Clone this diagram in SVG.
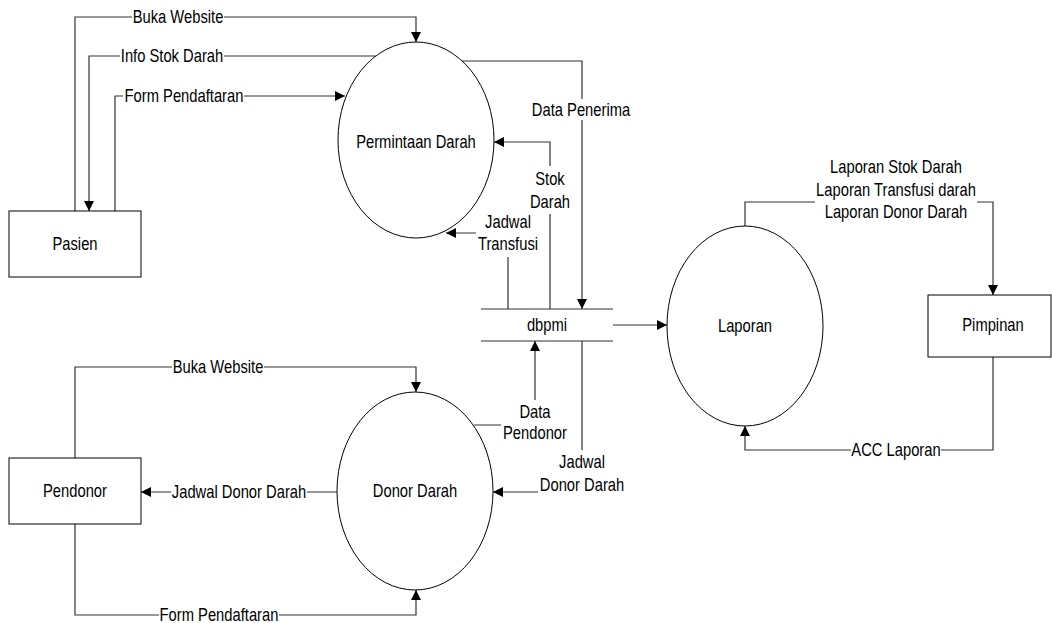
<svg xmlns="http://www.w3.org/2000/svg" width="1052" height="623" viewBox="0 0 1052 623">
<style>
text{font-family:"Liberation Sans",Arial,sans-serif;font-size:18px;fill:#000;text-anchor:middle}
.shape{fill:#fff;stroke:#000;stroke-width:1}
.ln{fill:none;stroke:#333;stroke-width:1.2}
.bg{fill:#fff;stroke:none}
</style>
<defs>
<marker id="arr" markerWidth="10" markerHeight="10" refX="10" refY="5" orient="auto" markerUnits="userSpaceOnUse">
<path d="M0,0 L10,5 L0,10 z" fill="#000"/>
</marker>
</defs>
<rect width="1052" height="623" fill="#fff"/>
<g id="connectors">
<path class="ln" d="M75,211 V17 H416 V42" marker-end="url(#arr)"/>
<path class="ln" d="M376,56 H89 V211" marker-end="url(#arr)"/>
<path class="ln" d="M115,211 V96 H345" marker-end="url(#arr)"/>
<path class="ln" d="M462,61 H582 V309" marker-end="url(#arr)"/>
<path class="ln" d="M550,309 V142 H494" marker-end="url(#arr)"/>
<path class="ln" d="M508,309 V233 H446" marker-end="url(#arr)"/>
<path class="ln" d="M613,325 H667" marker-end="url(#arr)"/>
<path class="ln" d="M745,226 V202 H993 V295" marker-end="url(#arr)"/>
<path class="ln" d="M993,357 V450 H745 V426" marker-end="url(#arr)"/>
<path class="ln" d="M75,458 V367 H416 V392" marker-end="url(#arr)"/>
<path class="ln" d="M337,492 H141" marker-end="url(#arr)"/>
<path class="ln" d="M75,524 V615 H416 V590" marker-end="url(#arr)"/>
<path class="ln" d="M474,425 H535 V341" marker-end="url(#arr)"/>
<path class="ln" d="M582,341 V492 H493" marker-end="url(#arr)"/>
<g id="labels">
<rect class="bg" x="132" y="8" width="92" height="18"/><text transform="translate(178,23) scale(0.82,1)">Buka Website</text>
<rect class="bg" x="120" y="47" width="104" height="18"/><text transform="translate(172,62) scale(0.82,1)">Info Stok Darah</text>
<rect class="bg" x="123" y="87" width="121" height="18"/><text transform="translate(184,102) scale(0.82,1)">Form Pendaftaran</text>
<rect class="bg" x="531" y="99" width="100" height="21"/><text transform="translate(581,116) scale(0.82,1)">Data Penerima</text>
<rect class="bg" x="530" y="166" width="40" height="48"/><text transform="translate(550,185) scale(0.82,1)">Stok</text><text transform="translate(550,208) scale(0.82,1)">Darah</text>
<rect class="bg" x="476" y="209" width="65" height="48"/><text transform="translate(508,228) scale(0.82,1)">Jadwal</text><text transform="translate(508,250) scale(0.82,1)">Transfusi</text>
<rect class="bg" x="815" y="156" width="162" height="68"/><text transform="translate(896,173) scale(0.82,1)">Laporan Stok Darah</text><text transform="translate(896,196) scale(0.82,1)">Laporan Transfusi darah</text><text transform="translate(896,218) scale(0.82,1)">Laporan Donor Darah</text>
<rect class="bg" x="851" y="441" width="90" height="18"/><text transform="translate(896,456) scale(0.82,1)">ACC Laporan</text>
<rect class="bg" x="172" y="358" width="92" height="18"/><text transform="translate(218,373) scale(0.82,1)">Buka Website</text>
<rect class="bg" x="171" y="483" width="136" height="18"/><text transform="translate(239,498) scale(0.82,1)">Jadwal Donor Darah</text>
<rect class="bg" x="159" y="606" width="120" height="17"/><text transform="translate(219,621) scale(0.82,1)">Form Pendaftaran</text>
<rect class="bg" x="501" y="400" width="67" height="44"/><text transform="translate(535,418) scale(0.82,1)">Data</text><text transform="translate(535,439) scale(0.82,1)">Pendonor</text>
<rect class="bg" x="538" y="450" width="88" height="45"/><text transform="translate(582,468) scale(0.82,1)">Jadwal</text><text transform="translate(582,491) scale(0.82,1)">Donor Darah</text>
</g>
</g>
<g id="pasien"><rect class="shape" x="9" y="211" width="132" height="66"/><text transform="translate(75,250) scale(0.82,1)">Pasien</text></g>
<g id="permintaan-darah"><ellipse class="shape" cx="416" cy="140" rx="78" ry="98"/><text transform="translate(416,148) scale(0.82,1)">Permintaan Darah</text></g>
<g id="dbpmi"><path class="ln" d="M481,309 H613 M481,341 H613"/><text transform="translate(547,331) scale(0.82,1)">dbpmi</text></g>
<g id="laporan"><ellipse class="shape" cx="745" cy="326" rx="78" ry="100"/><text transform="translate(745,332) scale(0.82,1)">Laporan</text></g>
<g id="pimpinan"><rect class="shape" x="928" y="295" width="123" height="62"/><text transform="translate(993,331) scale(0.82,1)">Pimpinan</text></g>
<g id="pendonor"><rect class="shape" x="9" y="458" width="132" height="66"/><text transform="translate(75,497) scale(0.82,1)">Pendonor</text></g>
<g id="donor-darah"><ellipse class="shape" cx="415" cy="491" rx="78" ry="99"/><text transform="translate(415,497) scale(0.82,1)">Donor Darah</text></g>
</svg>
